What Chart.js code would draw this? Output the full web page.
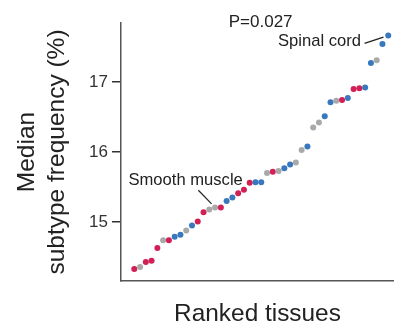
<!DOCTYPE html>
<html>
<head>
<meta charset="utf-8">
<script src="https://cdn.jsdelivr.net/npm/chart.js@4"></script>
<style>
  body { margin: 0; background: #fff; }
  canvas { display: block; }
</style>
</head>
<body>
<canvas id="chart" width="394" height="326"></canvas>
<script>
// median subtype frequency per tissue, sorted ascending
const values = [
    14.33, 14.36, 14.43, 14.45, 14.63, 14.74, 14.74, 14.79, 14.82, 14.88,
    14.95, 15.01, 15.14, 15.18, 15.21, 15.21, 15.30, 15.35, 15.41, 15.46,
    15.56, 15.57, 15.57, 15.70, 15.72, 15.73, 15.77, 15.82, 15.85, 16.03,
    16.08, 16.35, 16.42, 16.51, 16.71, 16.73, 16.74, 16.77, 16.90, 16.91,
    16.92, 17.27, 17.31, 17.54, 17.66
]
// r = red, b = blue, g = gray
const groups = [
    'r', 'g', 'r', 'r', 'r', 'g', 'r', 'b', 'b', 'g',
    'b', 'r', 'r', 'g', 'g', 'r', 'b', 'b', 'r', 'r',
    'r', 'b', 'b', 'g', 'r', 'g', 'b', 'b', 'g', 'g',
    'b', 'g', 'g', 'b', 'b', 'g', 'r', 'b', 'r', 'r',
    'b', 'b', 'g', 'b', 'b'
]
const yTicks = [15, 16, 17]
const groupColors = { r: '#d21f55', b: '#3a78bd', g: '#a9a9a9' }

// labels: text position in data units, leader line start and target point index
const labels = [
    { text: 'Smooth muscle', x: 9.9, y: 15.60, lineFrom: [12.1, 15.455], point: 14 },
    { text: 'Spinal cord', x: 33.1, y: 17.58, lineFrom: [40.9, 17.55], point: 44 },
]
const pText = 'P=0.027'

const FONT = "'Liberation Sans', Arial, sans-serif"

let points = values.map((v, i) => ({ x: i + 1, y: v }))

const annotations = {
    id: 'annotations',
    afterDatasetsDraw(chart) {
        let ctx = chart.ctx
        let xs = chart.scales.x
        let ys = chart.scales.y
        let meta = chart.getDatasetMeta(0)
        ctx.save()
        ctx.fillStyle = '#222'
        ctx.textAlign = 'center'
        ctx.textBaseline = 'middle'
        ctx.font = '17px ' + FONT
        ctx.fillText(pText, xs.getPixelForValue(22.9), ys.getPixelForValue(17.85))
        ctx.font = '16.6px ' + FONT
        labels.forEach(l => {
            ctx.fillText(l.text, xs.getPixelForValue(l.x), ys.getPixelForValue(l.y))
            let x0 = xs.getPixelForValue(l.lineFrom[0])
            let y0 = ys.getPixelForValue(l.lineFrom[1])
            let p = meta.data[l.point]
            let dx = p.x - x0, dy = p.y - y0
            let d = Math.sqrt(dx * dx + dy * dy)
            let gap = 5
            ctx.strokeStyle = '#222'
            ctx.lineWidth = 1.2
            ctx.beginPath()
            ctx.moveTo(x0, y0)
            ctx.lineTo(p.x - dx / d * gap, p.y - dy / d * gap)
            ctx.stroke()
        })
        ctx.restore()
    }
}

new Chart(document.querySelector('#chart'), {
    type: 'scatter',
    data: {
        datasets: [{
            data: points,
            pointBackgroundColor: groups.map(g => groupColors[g]),
            pointBorderWidth: 0,
            pointRadius: 3,
        }]
    },
    options: {
        responsive: false,
        animation: false,
        layout: { autoPadding: false, padding: { top: 23, right: 0, bottom: 0, left: 0 } },
        plugins: {
            legend: { display: false },
            tooltip: { enabled: false },
        },
        scales: {
            x: {
                type: 'linear',
                min: -1.3,
                max: 46,
                grid: { display: false },
                border: { display: true, color: '#555', width: 1.5 },
                ticks: { display: false },
                title: {
                    display: true,
                    text: 'Ranked tissues',
                    color: '#222',
                    font: { family: FONT, size: 24.4, lineHeight: 1 },
                    padding: { top: 0, bottom: 0 },
                },
                afterFit(scale) { scale.height = 45 },
            },
            y: {
                min: 14.16,
                max: 17.84,
                afterBuildTicks(scale) { scale.ticks = yTicks.map(v => ({ value: v })) },
                grid: { drawOnChartArea: false, drawTicks: true, tickLength: 9, color: '#333', lineWidth: 1.5 },
                border: { display: true, color: '#555', width: 1.5 },
                ticks: {
                    color: '#333',
                    padding: 4,
                    font: { family: FONT, size: 17 },
                },
                title: {
                    display: true,
                    text: ['Median', 'subtype frequency (%)'],
                    color: '#222',
                    font: { family: FONT, size: 24.5, lineHeight: 1.22 },
                    padding: { top: 12, bottom: 0 },
                },
                afterFit(scale) { scale.width = 121 },
            }
        }
    },
    plugins: [annotations]
})
</script>
</body>
</html>
